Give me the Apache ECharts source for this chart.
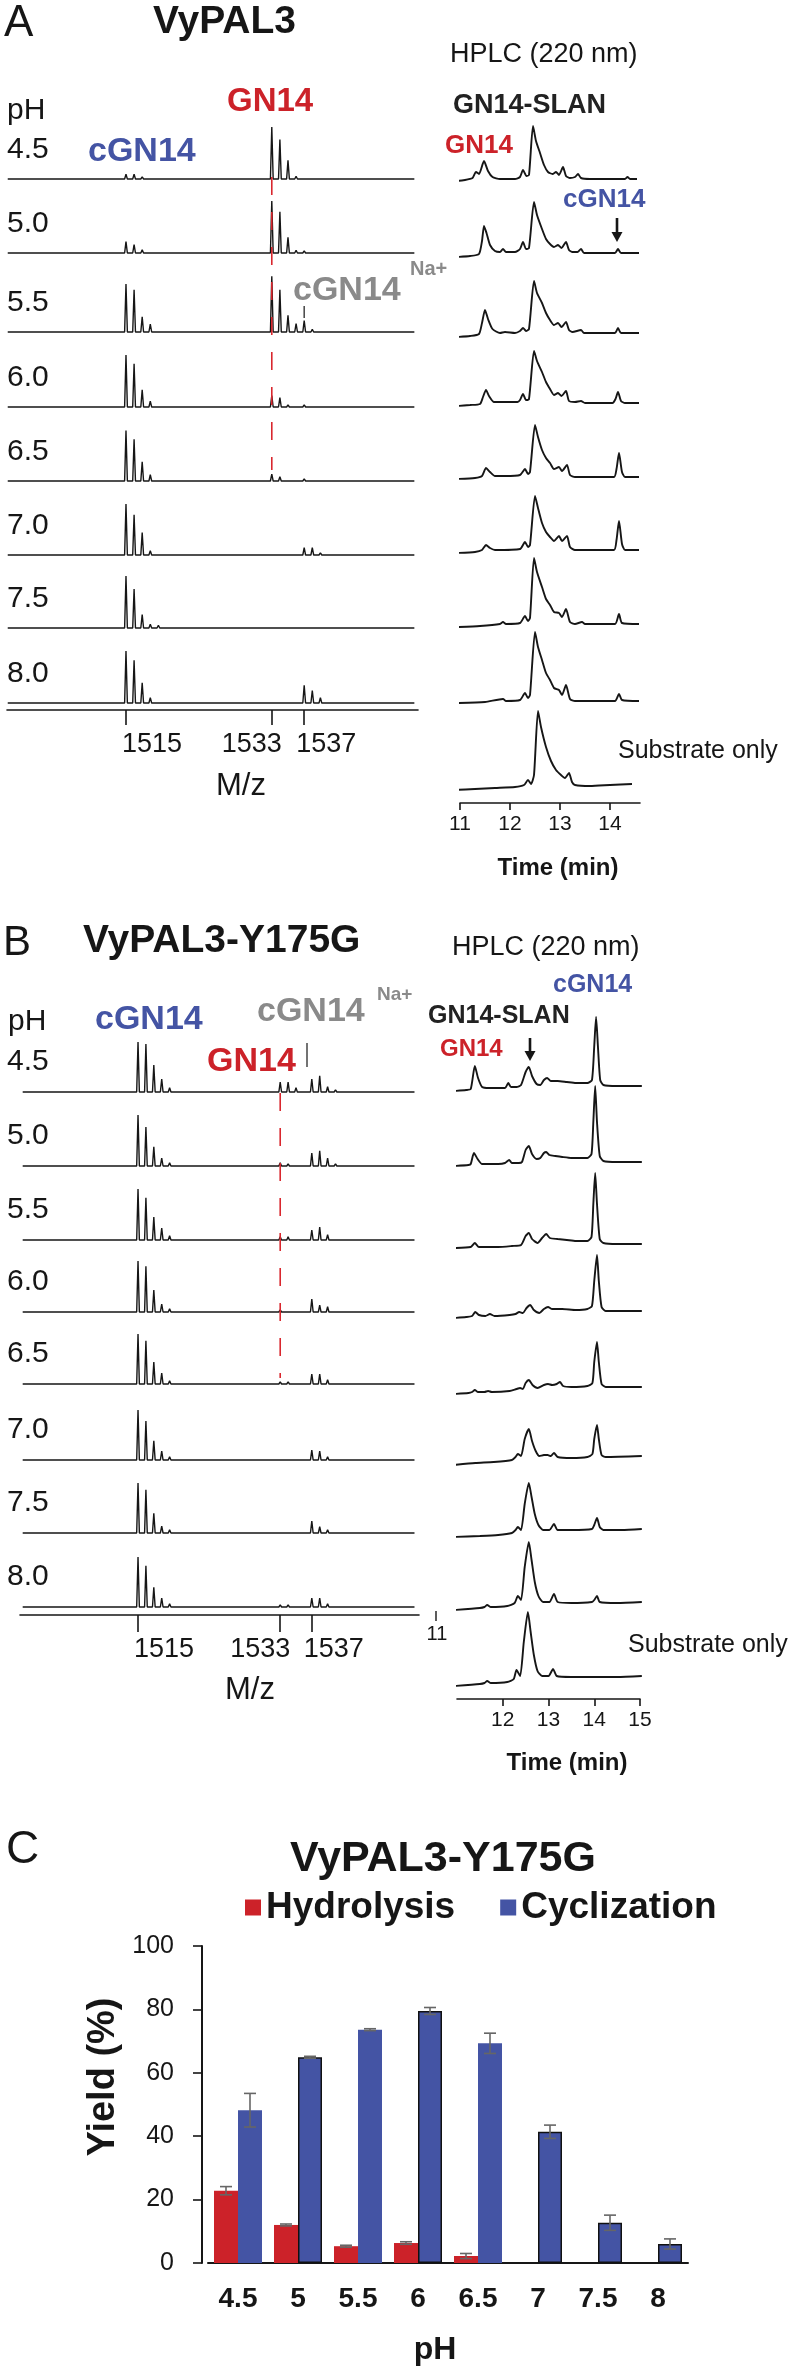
<!DOCTYPE html>
<html><head><meta charset="utf-8">
<script src="https://cdn.jsdelivr.net/npm/echarts@6/dist/echarts.min.js"></script>
<style>html,body{margin:0;padding:0;background:#fff}#c{width:794px;height:2369px}</style>
</head><body><div id="c"></div>
<script>
// ================= DATA =================
const pHLabels = ['4.5','5.0','5.5','6.0','6.5','7.0','7.5','8.0'];
const msTicks = [1515, 1533, 1537];
const hplcTicksA = [11, 12, 13, 14];
const hplcTicksB = [12, 13, 14, 15];

// MS peaks [m/z, relative intensity %], panel A (VyPAL3), one list per pH
const msPeaksA = [
  [[1515,9],[1516,9],[1517,4],[1533,100],[1534,76],[1535,36],[1536,5],[1537,3],[1538,2]],
  [[1515,22],[1516,16],[1517,6],[1518,2],[1533,100],[1534,79],[1535,30],[1536,5],[1537,4],[1538,2]],
  [[1515,92],[1516,81],[1517,29],[1518,15],[1519,3],[1533,107],[1534,81],[1535,32],[1536,16],[1537,22],[1538,5],[1539,2]],
  [[1515,100],[1516,83],[1517,33],[1518,11],[1519,3],[1533,22],[1534,18],[1535,4],[1536,3],[1537,4],[1538,3]],
  [[1515,97],[1516,80],[1517,37],[1518,12],[1519,3],[1533,13],[1534,8],[1535,3],[1537,4],[1538,3]],
  [[1515,98],[1516,77],[1517,43],[1518,8],[1519,3],[1533,3],[1534,3],[1537,14],[1538,14],[1539,4]],
  [[1515,100],[1516,75],[1517,26],[1518,7],[1519,5],[1537,3]],
  [[1515,100],[1516,82],[1517,39],[1518,10],[1519,3],[1533,2],[1534,2],[1537,34],[1538,24],[1539,10],[1540,3]]
];
// MS peaks panel B (VyPAL3-Y175G)
const msPeaksB = [
  [[1515,96],[1516,92],[1517,52],[1518,25],[1519,8],[1533,19],[1534,19],[1535,8],[1537,25],[1538,31],[1539,10],[1540,4]],
  [[1515,98],[1516,75],[1517,37],[1518,15],[1519,6],[1533,6],[1534,4],[1537,25],[1538,29],[1539,15],[1540,4]],
  [[1515,98],[1516,81],[1517,44],[1518,23],[1519,8],[1533,6],[1534,6],[1537,19],[1538,25],[1539,10],[1540,3]],
  [[1515,98],[1516,88],[1517,42],[1518,15],[1519,6],[1533,4],[1534,3],[1537,25],[1538,13],[1539,10],[1540,3]],
  [[1515,96],[1516,83],[1517,42],[1518,21],[1519,6],[1533,4],[1534,4],[1537,19],[1538,19],[1539,8],[1540,2]],
  [[1515,96],[1516,75],[1517,37],[1518,17],[1519,6],[1537,19],[1538,17],[1539,6]],
  [[1515,96],[1516,83],[1517,38],[1518,13],[1519,6],[1537,23],[1538,12],[1539,6]],
  [[1515,96],[1516,79],[1517,38],[1518,17],[1519,6],[1533,4],[1534,4],[1537,17],[1538,17],[1539,6]]
];

// HPLC traces [time (min), absorbance (a.u.)], panel A: pH 4.5 ... 8.0, substrate only
const hplcA = [
  [[10.66,-2],[10.9,-2],[11.1,-1],[11.25,1],[11.32,7],[11.38,5],[11.48,18],[11.56,8],[11.65,2],[11.8,0],[12.1,0],[12.2,2],[12.26,9],[12.33,3],[12.38,4],[12.46,53],[12.52,38],[12.6,26],[12.68,14],[12.76,7],[12.85,5],[12.92,7],[12.98,4],[13.06,12],[13.12,3],[13.2,1],[13.3,2],[13.36,5],[13.42,1],[13.6,0],[14.0,0],[14.3,0],[14.35,2],[14.4,0],[14.54,0]],
  [[10.94,-4],[11.2,-3],[11.38,-1],[11.44,12],[11.48,27],[11.53,20],[11.6,8],[11.7,2],[11.8,1],[11.86,4],[11.92,1],[12.1,1],[12.2,4],[12.26,11],[12.32,4],[12.38,5],[12.48,51],[12.54,38],[12.64,24],[12.72,14],[12.8,9],[12.88,6],[12.96,8],[13.03,5],[13.12,11],[13.18,3],[13.25,1],[13.35,1],[13.42,4],[13.48,0],[13.8,0],[14.1,0],[14.16,4],[14.22,0],[14.58,0]],
  [[10.94,-4],[11.2,-3],[11.38,-1],[11.44,10],[11.5,23],[11.56,14],[11.65,4],[11.8,0],[11.9,1],[12.1,0],[12.2,2],[12.26,5],[12.32,2],[12.38,4],[12.48,52],[12.54,40],[12.64,30],[12.72,20],[12.8,13],[12.88,8],[12.96,10],[13.03,6],[13.12,11],[13.18,3],[13.25,1],[13.42,3],[13.48,0],[13.8,0],[14.1,0],[14.16,5],[14.22,0],[14.58,0]],
  [[10.94,-3],[11.2,-2],[11.4,-1],[11.46,6],[11.52,13],[11.58,7],[11.68,1],[11.9,1],[12.15,1],[12.2,3],[12.26,9],[12.32,3],[12.38,4],[12.48,52],[12.54,42],[12.64,31],[12.72,21],[12.8,14],[12.88,8],[12.96,10],[13.03,7],[13.12,12],[13.18,2],[13.3,1],[13.42,2],[13.5,0],[14.05,0],[14.11,4],[14.16,11],[14.22,2],[14.3,0],[14.58,0]],
  [[10.94,-2],[11.3,-1],[11.44,1],[11.52,9],[11.6,5],[11.7,1],[11.9,1],[12.2,2],[12.3,8],[12.36,3],[12.4,5],[12.5,52],[12.56,40],[12.64,27],[12.72,19],[12.8,14],[12.88,8],[12.98,10],[13.04,6],[13.14,12],[13.2,2],[13.3,0],[14.08,0],[14.13,8],[14.18,24],[14.24,5],[14.3,0],[14.58,0]],
  [[10.94,-3],[11.3,-2],[11.44,0],[11.52,5],[11.6,2],[11.7,0],[12.2,1],[12.3,8],[12.36,3],[12.4,5],[12.5,54],[12.56,42],[12.64,27],[12.72,18],[12.8,13],[12.88,9],[12.98,14],[13.04,9],[13.14,14],[13.2,3],[13.3,0],[14.08,0],[14.13,10],[14.18,29],[14.24,6],[14.3,0],[14.58,0]],
  [[10.94,-3],[11.4,-2],[11.8,0],[11.86,2],[11.92,0],[12.2,1],[12.3,8],[12.36,3],[12.4,6],[12.48,66],[12.54,52],[12.64,37],[12.72,25],[12.8,19],[12.88,12],[12.98,11],[13.04,7],[13.12,15],[13.2,2],[13.3,0],[13.44,2],[13.5,0],[14.1,0],[14.18,10],[14.24,1],[14.58,0]],
  [[10.94,-2],[11.5,-1],[11.86,2],[11.92,0],[12.2,1],[12.3,8],[12.36,3],[12.4,6],[12.5,69],[12.56,54],[12.64,41],[12.72,28],[12.8,21],[12.88,13],[12.98,11],[13.04,6],[13.12,16],[13.2,2],[13.3,0],[14.1,0],[14.18,7],[14.24,1],[14.58,0]],
  [[10.9,-5],[11.3,-4],[11.7,-3],[12.1,-2],[12.28,0],[12.36,5],[12.42,1],[12.48,10],[12.56,74],[12.62,58],[12.72,38],[12.82,24],[12.92,15],[13.02,10],[13.1,7],[13.18,12],[13.24,3],[13.3,0],[13.6,-1],[14.0,0],[14.44,1]]
];
// HPLC traces panel B
const hplcB = [
  [[10.93,-5],[11.2,-4],[11.3,-3],[11.39,20],[11.46,8],[11.55,-1],[11.7,-2],[12.05,-2],[12.12,3],[12.18,-1],[12.3,-1],[12.4,1],[12.5,14],[12.57,19],[12.64,10],[12.74,2],[12.82,1],[12.9,6],[12.97,8],[13.05,5],[13.2,5],[13.4,4],[13.6,3],[13.85,3],[13.95,6],[14.0,40],[14.04,69],[14.08,40],[14.13,6],[14.2,1],[14.5,0],[15.04,0]],
  [[10.93,-4],[11.25,-3],[11.3,-2],[11.37,9],[11.45,3],[11.55,-2],[11.9,-2],[12.05,-1],[12.14,2],[12.2,-1],[12.35,-1],[12.42,0],[12.5,12],[12.57,16],[12.64,8],[12.74,3],[12.82,4],[12.9,9],[12.95,10],[13.02,7],[13.15,6],[13.3,5],[13.5,4],[13.7,4],[13.85,4],[13.94,8],[13.98,40],[14.02,76],[14.06,40],[14.12,6],[14.2,1],[14.5,0],[15.04,0]],
  [[10.93,-4],[11.3,-3],[11.39,1],[11.48,-3],[11.9,-3],[12.2,-2],[12.4,-1],[12.5,8],[12.57,11],[12.64,5],[12.76,1],[12.86,6],[12.95,10],[13.03,6],[13.2,5],[13.4,4],[13.6,3],[13.85,3],[13.94,7],[13.98,40],[14.02,71],[14.06,40],[14.12,5],[14.2,1],[14.5,0],[15.04,0]],
  [[10.93,-7],[11.2,-6],[11.33,-5],[11.4,-1],[11.48,-4],[11.62,-5],[11.72,-3],[11.82,-5],[12.15,-4],[12.28,-3],[12.36,-1],[12.44,-2],[12.52,3],[12.6,6],[12.68,1],[12.8,-2],[12.9,2],[12.99,4],[13.08,2],[13.3,2],[13.6,1],[13.85,2],[13.95,5],[14.0,30],[14.06,56],[14.1,30],[14.16,4],[14.25,0],[15.04,0]],
  [[10.93,-7],[11.25,-6],[11.33,-5],[11.39,-3],[11.46,-5],[11.6,-5],[11.68,-4],[11.76,-5],[12.15,-4],[12.3,-2],[12.38,-1],[12.44,-2],[12.5,4],[12.57,7],[12.65,2],[12.76,-1],[12.9,2],[12.99,3],[13.08,2],[13.18,3],[13.25,5],[13.32,1],[13.5,0],[13.85,1],[13.96,4],[14.0,25],[14.06,45],[14.1,25],[14.16,3],[14.25,0],[15.04,0]],
  [[10.93,-8],[11.4,-6],[11.8,-5],[12.2,-3],[12.28,0],[12.33,3],[12.4,1],[12.48,18],[12.57,28],[12.64,16],[12.72,6],[12.8,1],[12.9,2],[12.98,2],[13.05,1],[13.12,4],[13.2,0],[13.5,-1],[13.85,0],[13.96,3],[14.0,18],[14.06,32],[14.1,18],[14.16,2],[14.25,0],[15.04,1]],
  [[10.93,-8],[11.5,-7],[11.9,-6],[12.2,-4],[12.28,-1],[12.33,2],[12.4,-1],[12.48,25],[12.57,46],[12.63,32],[12.7,15],[12.78,4],[12.88,-1],[13.02,-1],[13.12,5],[13.2,-1],[13.5,-1],[13.95,0],[14.0,4],[14.06,11],[14.12,2],[14.2,-1],[14.6,-1],[15.04,0]],
  [[10.93,-8],[11.5,-6],[11.6,-5],[11.66,-3],[11.74,-5],[12.1,-4],[12.26,-1],[12.33,6],[12.4,2],[12.48,35],[12.57,60],[12.63,42],[12.7,20],[12.78,6],[12.88,0],[13.02,0],[13.12,8],[13.2,0],[13.5,-1],[13.95,0],[14.0,2],[14.06,6],[14.12,0],[14.5,-1],[15.04,0]],
  [[10.93,-9],[11.5,-7],[11.6,-6],[11.66,-4],[11.74,-6],[12.1,-5],[12.24,-2],[12.3,7],[12.38,1],[12.46,35],[12.55,65],[12.61,45],[12.68,22],[12.76,6],[12.86,1],[13.0,1],[13.1,8],[13.18,1],[13.5,0],[14.0,0],[14.5,0],[15.04,1]]
];

// Panel C: yield (%) vs pH
const barCategories = ['4.5','5','5.5','6','6.5','7','7.5','8'];
const hydrolysis    = [22.8, 12.0, 5.3, 6.3, 2.2, 0, 0, 0];
const hydrolysisErr = [1.3, 0.3, 0.3, 0.4, 0.8, 0, 0, 0];
const cyclization    = [48.2, 64.9, 73.6, 79.5, 69.3, 41.4, 12.7, 6.0];
const cyclizationErr = [5.3, 0.3, 0.3, 1.1, 3.2, 2.1, 2.4, 1.6];

// ================= LAYOUT / STYLE =================
const FONT = "'Liberation Sans', Arial, Helvetica, sans-serif";
const INK = '#161616';
const RED = '#cc2229', BLUE = '#4454a4', GRAY = '#8a8a8a';
const LA = { ms:{left:7,width:411,min:1500.31,max:1551.05,span:[1500.4,1550.6],base:[179,253,332,407,481,555,628,703],axisY:710,tick:15},
             hp:{left:460,width:180,min:11,max:14.6,base:[179,253,333,403,477,550,624,701,785],axisY:803} };
const LB = { ms:{left:20,width:399,min:1500.06,max:1550.57,span:[1500.4,1550.0],base:[1092,1166,1240,1312,1384,1460,1533,1607],axisY:1615,tick:17},
             hp:{left:457,width:183,min:11,max:15,base:[1086,1162,1244,1311,1387,1457,1529,1602,1677],axisY:1699} };

const grids=[], xAxes=[], yAxes=[], series=[];
function addGrid(g,x,y){ const k=grids.length; grids.push(g); xAxes.push(Object.assign({gridIndex:k},x)); yAxes.push(Object.assign({gridIndex:k},y)); return k; }
const hid = (min,max)=>({type:'value',min,max,show:false,splitLine:{show:false}});
function spectrum(peaks, span){
  const pts=[[span[0],0]];
  peaks.slice().sort((a,b)=>a[0]-b[0]).forEach(([m,h])=>{ pts.push([m-0.17,0],[m,h],[m+0.17,0]); });
  pts.push([span[1],0]); return pts;
}
function buildMS(cfg, list){
  const rows=[];
  list.forEach((peaks,i)=>{
    const k=addGrid({left:cfg.left,width:cfg.width,top:cfg.base[i]-75,height:75}, hid(cfg.min,cfg.max), hid(0,144));
    series.push({type:'line',xAxisIndex:k,yAxisIndex:k,data:spectrum(peaks,cfg.span),symbol:'none',clip:false,silent:true,
      lineStyle:{color:INK,width:1.4},z:3});
    rows.push(k);
  });
  const a=addGrid({left:cfg.left,width:cfg.width,top:cfg.axisY-1,height:1},
    {type:'value',min:cfg.min,max:cfg.max,position:'bottom',
     axisLine:{show:true,onZero:false,lineStyle:{color:INK,width:1.6}},
     axisTick:{show:true,customValues:msTicks,length:cfg.tick,lineStyle:{color:INK,width:1.6}},
     axisLabel:{show:false},splitLine:{show:false}}, hid(0,1));
  return {rows, axis:a};
}
function buildHPLC(cfg, list, ticks){
  list.forEach((tr,i)=>{
    const k=addGrid({left:cfg.left,width:cfg.width,top:cfg.base[i]-75,height:85}, hid(cfg.min,cfg.max), hid(-10,75));
    series.push({type:'line',xAxisIndex:k,yAxisIndex:k,data:tr,symbol:'none',smooth:0.2,clip:false,silent:true,
      lineStyle:{color:INK,width:1.9}});
  });
  return addGrid({left:cfg.left,width:cfg.width,top:cfg.axisY-1,height:1},
    {type:'value',min:cfg.min,max:cfg.max,position:'bottom',
     axisLine:{show:true,onZero:false,lineStyle:{color:INK,width:1.6}},
     axisTick:{show:true,customValues:ticks,length:7,lineStyle:{color:INK,width:1.6}},
     axisLabel:{show:true,customValues:ticks,fontSize:21,margin:11,color:INK,fontFamily:FONT},
     splitLine:{show:false}}, hid(0,1));
}
const msA = buildMS(LA.ms, msPeaksA);
const msB = buildMS(LB.ms, msPeaksB);
buildHPLC(LA.hp, hplcA, hplcTicksA);
buildHPLC(LB.hp, hplcB, hplcTicksB);

// Bar chart (panel C)
const cK = addGrid({left:208,width:480,top:1946,height:317},
  {type:'category',data:barCategories,axisLine:{lineStyle:{color:INK,width:2}},axisTick:{show:false},
   axisLabel:{fontSize:28,fontWeight:'bold',color:INK,margin:22,fontFamily:FONT}},
  {type:'value',min:0,max:100,interval:20,offset:6,
   axisLine:{show:true,lineStyle:{color:INK,width:2}},
   axisTick:{show:true,length:9,lineStyle:{color:INK,width:1.6}},
   axisLabel:{fontSize:25,color:INK,margin:28,fontFamily:FONT},splitLine:{show:false}});
const outlined=[1,3,5,6,7];
series.push({name:'Hydrolysis',type:'bar',xAxisIndex:cK,yAxisIndex:cK,data:hydrolysis,barWidth:24,barGap:'0%',
  itemStyle:{color:RED}});
series.push({name:'Cyclization',type:'bar',xAxisIndex:cK,yAxisIndex:cK,barWidth:24,barGap:'0%',
  data:cyclization.map((v,i)=>({value:v,itemStyle:outlined.includes(i)?{borderColor:'#111',borderWidth:1.5}:{}})),
  itemStyle:{color:BLUE}});
function errSeries(vals, errs, off){
  return {type:'custom',xAxisIndex:cK,yAxisIndex:cK,silent:true,z:5,
    data:vals.map((v,i)=>[i,v,errs[i]]),
    renderItem:(p,api)=>{
      const i=api.value(0), v=api.value(1), e=api.value(2);
      if(!e) return null;
      const c=api.coord([i,v]), t=api.coord([i,v+e]), b=api.coord([i,v-e]);
      const x=c[0]+off, hw=6, st={stroke:'#666',lineWidth:1.6};
      return {type:'group',children:[
        {type:'line',shape:{x1:x,y1:t[1],x2:x,y2:b[1]},style:st},
        {type:'line',shape:{x1:x-hw,y1:t[1],x2:x+hw,y2:t[1]},style:st},
        {type:'line',shape:{x1:x-hw,y1:b[1],x2:x+hw,y2:b[1]},style:st}]};
    }};
}
series.push(errSeries(hydrolysis,hydrolysisErr,-12));
series.push(errSeries(cyclization,cyclizationErr,12));

const chart = echarts.init(document.getElementById('c'), null, {renderer:'canvas',width:794,height:2369});
chart.setOption({
  animation:false, backgroundColor:'#fff',
  grid:grids, xAxis:xAxes, yAxis:yAxes, series,
  legend:{data:['Hydrolysis','Cyclization'],left:240,top:1884,icon:'rect',itemWidth:16,itemHeight:16,itemGap:45,
    textStyle:{fontSize:37,fontWeight:'bold',color:INK,fontFamily:FONT}}
});

// ================= ANNOTATIONS =================
const G=[];
function txt(text,x,y,size,o={}){ G.push({type:'text',x,y,rotation:o.rot||0,silent:true,z:10,
  style:{text,fontSize:size,fontFamily:FONT,fontWeight:o.bold?'bold':'normal',fill:o.color||INK,align:o.align||'left',verticalAlign:'middle'}}); }
function seg(x1,y1,x2,y2,o={}){ G.push({type:'line',silent:true,z:9,shape:{x1,y1,x2,y2},
  style:{stroke:o.color||INK,lineWidth:o.w||1.5,lineDash:o.dash||null}}); }
function arrowDown(x,y1,y2){ seg(x,y1,x,y2-8,{w:2.6}); G.push({type:'polygon',silent:true,z:9,shape:{points:[[x-5.5,y2-10],[x+5.5,y2-10],[x,y2]]},style:{fill:INK}}); }
const px=(k,v)=>chart.convertToPixel({xAxisIndex:k},v);

// Panel A
txt('A',4,24,44);
txt('VyPAL3',153,22,39,{bold:true});
txt('pH',7,111,30);
LA.ms.base.forEach((b,i)=>txt(pHLabels[i],7,b-29,30));
txt('cGN14',88,152,34,{bold:true,color:BLUE});
txt('GN14',227,102,33,{bold:true,color:RED});
txt('cGN14',293,291,34,{bold:true,color:GRAY});
txt('Na+',410,269,20,{bold:true,color:GRAY});
seg(px(msA.axis,1537),306,px(msA.axis,1537),318,{color:'#444',w:1.5});
txt('HPLC (220 nm)',450,55,27);
txt('GN14-SLAN',453,106,27,{bold:true,color:'#222'});
txt('GN14',445,146,26,{bold:true,color:RED});
txt('cGN14',563,200,26,{bold:true,color:BLUE});
arrowDown(617,218,242);
txt('Substrate only',618,751,25);
const labOff=[-4,-50,-8];
msTicks.forEach((v,j)=>{ txt(String(v),px(msA.axis,v)+labOff[j],745,27); txt(String(v),px(msB.axis,v)+labOff[j],1650,27); });
txt('M/z',241,786,31,{align:'center'});
txt('Time (min)',558,868,24,{bold:true,align:'center'});
const xa=px(msA.rows[0],1533); seg(xa,LA.ms.base[0]-2,xa,LA.ms.base[4]-11,{color:'#d9272e',w:1.6,dash:[18,17]});

// Panel B
txt('B',3,943,42);
txt('VyPAL3-Y175G',83,941,39,{bold:true});
txt('pH',8,1022,30);
LB.ms.base.forEach((b,i)=>txt(pHLabels[i],7,b-30,30));
txt('cGN14',95,1020,34,{bold:true,color:BLUE});
txt('cGN14',257,1012,34,{bold:true,color:GRAY});
txt('Na+',377,995,19,{bold:true,color:GRAY});
seg(307,1043,307,1067,{color:'#444',w:1.5});
txt('GN14',207,1062,34,{bold:true,color:RED});
txt('HPLC (220 nm)',452,948,27);
txt('cGN14',553,985,25,{bold:true,color:BLUE});
txt('GN14-SLAN',428,1016,25,{bold:true,color:'#222'});
txt('GN14',440,1049,24,{bold:true,color:RED});
arrowDown(530,1038,1061);
txt('Substrate only',628,1645,25);
txt('11',437,1634,20,{align:'center'});
seg(436,1611,436,1621,{w:1.4});
txt('M/z',250,1690,31,{align:'center'});
txt('Time (min)',567,1763,24,{bold:true,align:'center'});
const xb=px(msB.rows[0],1533); seg(xb,LB.ms.base[0]+1,xb,LB.ms.base[4]-6,{color:'#d9272e',w:1.6,dash:[18,17]});

// Panel C
txt('C',6,1850,46);
txt('VyPAL3-Y175G',443,1859,43,{bold:true,align:'center'});
txt('Yield (%)',104,2077,38,{bold:true,align:'center',rot:Math.PI/2});
txt('pH',435,2350,32,{bold:true,align:'center'});

chart.setOption({graphic:G});
</script></body></html>
